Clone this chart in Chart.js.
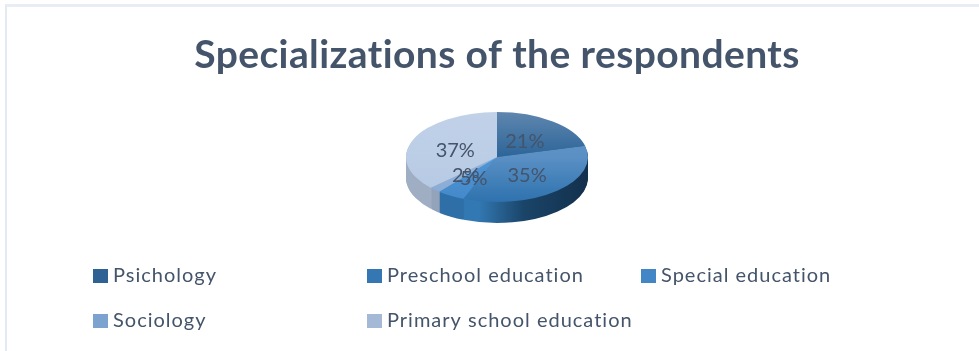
<!DOCTYPE html>
<html>
<head>
<meta charset="utf-8">
<script src="https://cdn.jsdelivr.net/npm/chart.js@4/dist/chart.umd.min.js"></script>
<style>
  html, body { margin: 0; padding: 0; background: #fff; }
  #wrap { position: relative; width: 979px; height: 351px; }
  #frame { position: absolute; left: 5px; top: 4px; right: 0; bottom: 0; border-left: 2px solid #e4eaf2; border-top: 3px solid #e8edf4; }
</style>
</head>
<body>
<div id="wrap">
  <div id="frame"></div>
  <canvas id="myChart" width="979" height="351" style="position:absolute;left:0;top:0"></canvas>
</div>
<script>
const categories = ['Psichology', 'Preschool education', 'Special education', 'Sociology', 'Primary school education'];
const shares = [21, 35, 5, 2, 37];
const swatches = ['#2e6295', '#3477b3', '#4286c6', '#7ca2d0', '#a3b9d6'];

// top surface shading: top edge, centre line, bottom edge
const topColors = [
    ['#5f86ae', '#2c6599', '#2c6599'],
    ['#6096ca', '#5a90c4', '#2e72ae'],
    ['#5398d8', '#5096d6', '#4388c8'],
    ['#93b3da', '#93b3da', '#86a9d4'],
    ['#c0d1e8', '#bccee6', '#b4c8e2']
];
// wall shading: left edge, middle, right edge of the pie
const wallColors = [
    ['#1c4468', '#1c4468', '#143350'],
    ['#3278b2', '#1a4468', '#13304c'],
    ['#2f6fa8', '#3278b2', '#3278b2'],
    ['#93a3ba', '#a0aec4', '#a0aec4'],
    ['#a0aec4', '#8a9ab2', '#8a9ab2']
];

const TEXT_COLOR = '#44546a';
const PIE_X = 497, PIE_Y = 157, PIE_RX = 91, PIE_RY = 45, DEPTH = 21;
const SQUASH = PIE_RY / PIE_RX;
const LEGEND_X = [93, 367, 641, 93, 367];
const LEGEND_Y = [269, 269, 269, 314, 314];

const canvas = document.getElementById('myChart');

function squash(ctx, arc, dy) {
    ctx.translate(0, PIE_Y + dy);
    ctx.scale(1, SQUASH);
    ctx.translate(0, -arc.y);
}

// flattens the pie and stacks copies of each arc below it for the side wall
const tiltedPie = {
    id: 'tiltedPie',
    beforeDatasetsDraw(chart) {
        const ctx = chart.ctx;
        const arcs = chart.getDatasetMeta(0).data;
        const first = arcs[0];
        const walls = wallColors.map(stops => {
            const g = ctx.createLinearGradient(first.x - PIE_RX, 0, first.x + PIE_RX, 0);
            g.addColorStop(0, stops[0]);
            g.addColorStop(0.4, stops[0]);
            g.addColorStop(0.65, stops[1]);
            g.addColorStop(1, stops[2]);
            return g;
        });
        for (let dy = DEPTH; dy > 0; dy--) {
            ctx.save();
            squash(ctx, first, dy);
            arcs.forEach((arc, i) => {
                const saved = arc.options;
                arc.options = { ...saved, backgroundColor: walls[i] };
                arc.draw(ctx);
                arc.options = saved;
            });
            ctx.restore();
        }
        ctx.save();
        squash(ctx, first, 0);
    },
    afterDatasetsDraw(chart) {
        const ctx = chart.ctx;
        ctx.restore();
        const arcs = chart.getDatasetMeta(0).data;
        ctx.save();
        ctx.fillStyle = TEXT_COLOR;
        ctx.font = '20px Lato';
        ctx.textAlign = 'center';
        ctx.textBaseline = 'middle';
        arcs.forEach((arc, i) => {
            const c = arc.getCenterPoint();
            const y = PIE_Y + (c.y - arc.y) * SQUASH;
            ctx.fillText(shares[i] + '%', c.x, y + 2);
        });
        ctx.restore();
    }
};

// spacing also stops Lato joining the "ti" in the title
const titleSpacing = {
    id: 'titleSpacing',
    beforeDraw(chart) {
        chart.ctx.letterSpacing = '0.4px';
    },
    beforeDatasetsDraw(chart) {
        chart.ctx.letterSpacing = '0px';
    }
};

// two row legend with fixed columns
const columnLegend = {
    id: 'columnLegend',
    afterDraw(chart) {
        const ctx = chart.ctx;
        ctx.save();
        ctx.font = '20px Lato';
        ctx.letterSpacing = '1px';
        ctx.textBaseline = 'middle';
        chart.data.labels.forEach((label, i) => {
            ctx.fillStyle = swatches[i];
            ctx.fillRect(LEGEND_X[i], LEGEND_Y[i], 15, 14);
            ctx.fillStyle = TEXT_COLOR;
            ctx.fillText(label, LEGEND_X[i] + 20, LEGEND_Y[i] + 7);
        });
        ctx.restore();
    }
};

const chart = new Chart(canvas, {
    type: 'pie',
    data: {
        labels: categories,
        datasets: [{
            data: shares,
            borderWidth: 0,
            backgroundColor(context) {
                const c = context.chart.ctx;
                const area = context.chart.chartArea;
                if (!area) return swatches[context.dataIndex];
                const mid = (area.top + area.bottom) / 2;
                const stops = topColors[context.dataIndex];
                const g = c.createLinearGradient(0, mid - PIE_RX, 0, mid + PIE_RX);
                g.addColorStop(0, stops[0]);
                g.addColorStop(0.5, stops[1]);
                g.addColorStop(1, stops[2]);
                return g;
            }
        }]
    },
    options: {
        responsive: false,
        animation: false,
        radius: PIE_RX,
        layout: { padding: { left: 2 * PIE_X - 979, top: 0 } },
        plugins: {
            legend: { display: false },
            tooltip: { enabled: false },
            title: {
                display: true,
                text: 'Specializations of the respondents',
                color: TEXT_COLOR,
                font: { family: 'Lato', size: 39, weight: 'bold' },
                padding: { top: 32, bottom: 10 }
            }
        }
    },
    plugins: [titleSpacing, tiltedPie, columnLegend]
});
</script>
</body>
</html>
